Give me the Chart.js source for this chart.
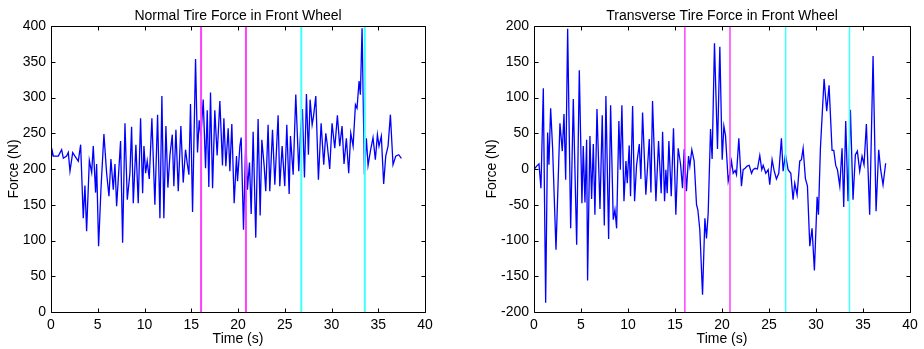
<!DOCTYPE html>
<html>
<head>
<meta charset="utf-8">
<script src="https://cdn.jsdelivr.net/npm/chart.js@4.4.1/dist/chart.umd.min.js"></script>
<style>
  html, body { margin: 0; padding: 0; background: #fff; }
  #wrap { position: relative; width: 924px; height: 349px; }
  canvas { position: absolute; top: 0; }
  #leftChart { left: 0; }
  #rightChart { left: 462px; }
</style>
</head>
<body>
<div id="wrap">
  <canvas id="leftChart" width="462" height="349"></canvas>
  <canvas id="rightChart" width="462" height="349"></canvas>
</div>
<script>
// Normal tire force (N) vs time (s)
const normalTime = [0.00, 0.14, 0.25, 0.43, 0.78, 1.14, 1.32, 1.67, 1.85, 2.03, 2.32, 2.56, 2.92, 3.17, 3.45, 3.63, 3.81, 4.10, 4.35, 4.52,
    4.77, 4.88, 5.09, 5.34, 5.66, 5.95, 6.20, 6.41, 6.66, 6.84, 7.02, 7.44, 7.66, 7.91, 8.16, 8.44, 8.62, 8.80, 9.08, 9.33,
    9.58, 9.80, 9.94, 10.12, 10.29, 10.51, 10.79, 11.11, 11.40, 11.65, 11.86, 12.07, 12.29, 12.50, 12.72, 12.97, 13.14, 13.36, 13.61, 13.89,
    14.14, 14.39, 14.57, 14.75, 14.92, 15.14, 15.46, 15.67, 15.85, 16.03, 16.28, 16.53, 16.71, 16.88, 17.06, 17.28, 17.52, 17.77, 18.06, 18.34,
    18.49, 18.70, 18.95, 19.13, 19.34, 19.59, 19.84, 19.95, 20.20, 20.34, 20.59, 20.84, 21.01, 21.23, 21.41, 21.62, 21.90, 22.15, 22.37, 22.55,
    22.80, 22.97, 23.22, 23.40, 23.69, 23.94, 24.29, 24.47, 24.72, 25.00, 25.22, 25.47, 25.61, 25.90, 26.18, 26.50, 26.71, 26.89, 27.11, 27.32,
    27.53, 27.71, 27.93, 28.07, 28.32, 28.60, 28.89, 29.17, 29.39, 29.53, 29.81, 30.06, 30.35, 30.63, 30.88, 31.13, 31.34, 31.59, 31.84, 32.06,
    32.31, 32.56, 32.73, 32.95, 33.09, 33.27, 33.52, 33.73, 33.91, 34.16, 34.44, 34.69, 34.91, 35.08, 35.33, 35.58, 35.80, 36.05, 36.30, 36.58,
    36.87, 37.19, 37.47];
const normalForce = [213, 225, 218, 218, 218, 227, 215, 218, 223, 197, 223, 218, 211, 234, 131, 177, 113, 212, 195, 232,
    167, 207, 92, 171, 249, 194, 162, 214, 171, 207, 148, 239, 97, 264, 157, 194, 259, 152, 234, 152,
    271, 166, 232, 194, 211, 186, 271, 150, 276, 131, 302, 131, 260, 174, 219, 248, 176, 255, 169, 260,
    181, 227, 208, 192, 291, 140, 354, 223, 268, 246, 297, 201, 282, 175, 307, 173, 282, 219, 295, 205,
    271, 204, 257, 197, 263, 152, 218, 183, 232, 244, 115, 247, 171, 209, 137, 252, 104, 270, 135, 241,
    204, 169, 262, 169, 255, 178, 275, 176, 232, 176, 262, 165, 246, 192, 304, 197, 257, 284, 188, 305,
    220, 297, 262, 273, 302, 185, 264, 206, 250, 236, 200, 264, 229, 275, 232, 260, 207, 243, 194, 250,
    232, 290, 285, 323, 304, 397, 192, 243, 205, 225, 244, 213, 248, 232, 246, 179, 218, 232, 276, 206,
    218, 220, 215];

// Transverse tire force (N) vs time (s)
const transTime = [0.00, 0.28, 0.53, 0.74, 0.99, 1.24, 1.45, 1.59, 1.77, 1.98, 2.34, 2.76, 3.01, 3.19, 3.37, 3.58, 3.90, 4.18, 4.54, 4.82,
    5.10, 5.24, 5.42, 5.60, 5.70, 5.95, 6.13, 6.31, 6.48, 6.70, 7.02, 7.26, 7.48, 7.65, 7.94, 8.15, 8.43, 8.61, 8.79, 9.03,
    9.18, 9.35, 9.57, 9.78, 9.92, 10.13, 10.27, 10.49, 10.70, 10.91, 11.20, 11.37, 11.55, 11.90, 12.26, 12.44, 12.61, 12.97, 13.25, 13.53,
    13.68, 13.89, 14.03, 14.17, 14.35, 14.60, 14.84, 15.09, 15.34, 15.59, 15.80, 15.98, 16.22, 16.44, 16.58, 16.79, 17.04, 17.29, 17.43, 17.64,
    17.93, 18.18, 18.35, 18.53, 18.78, 18.95, 19.20, 19.52, 19.77, 20.02, 20.20, 20.37, 20.66, 20.83, 21.01, 21.19, 21.40, 21.54, 21.79, 22.07,
    22.25, 22.46, 22.67, 22.89, 23.14, 23.31, 23.53, 23.77, 24.02, 24.23, 24.38, 24.66, 24.91, 25.08, 25.33, 25.54, 25.79, 26.04, 26.32, 26.50,
    26.75, 27.03, 27.32, 27.56, 27.74, 27.99, 28.27, 28.45, 28.63, 28.87, 29.09, 29.34, 29.58, 29.83, 30.12, 30.26, 30.47, 30.86, 31.14, 31.39,
    31.71, 31.89, 32.10, 32.28, 32.53, 32.77, 32.95, 33.16, 33.41, 33.66, 33.94, 34.19, 34.40, 34.65, 34.90, 35.11, 35.36, 35.71, 36.07, 36.39,
    36.67, 36.88, 37.13, 37.41];
const transForce = [-1, 4, 7, -27, 113, -187, 51, 6, 85, 29, -113, 64, 25, 77, -15, 196, -83, 98, -106, 138,
    -48, 32, -47, 41, -156, 46, -42, 35, -64, 84, -56, 75, -79, 102, -98, 89, -71, -57, -83, 67,
    -1, 89, -45, 11, -20, 33, -38, 88, -45, 5, 35, -14, 79, -36, 42, -33, 95, -45, 39, -34,
    52, -45, -1, -34, 39, -38, 57, -64, 29, 7, -27, 28, -31, 18, 4, 27, 11, -50, -57, -85,
    -176, -69, -97, -62, 56, 14, 176, 28, 171, 13, 60, 47, -17, -6, 11, -6, -2, -8, 43, -24,
    -1, 1, 4, 5, -6, -1, 1, 0, 19, -1, 5, -6, -1, -22, 13, -2, -14, -6, 43, -3,
    20, -1, -6, -43, -20, -36, 11, 13, 29, -13, -24, -108, -83, -142, -39, -64, 29, 126, 81, 117,
    26, 26, 5, -1, -24, 29, -53, 67, -45, 83, -43, 20, 25, -3, 18, 6, 63, -64, 158, -59,
    27, -1, -22, 8];

// Event markers (s)
const magentaTimes = [16.05, 20.85];
const cyanTimes = [26.77, 33.56];

const xTicks = [0, 5, 10, 15, 20, 25, 30, 35, 40];
const normalTicks = [0, 50, 100, 150, 200, 250, 300, 350, 400];
const transTicks = [-200, -150, -100, -50, 0, 50, 100, 150, 200];

const FONT = '"Liberation Sans", Arial, Helvetica, sans-serif';

function pairs(xs, ys) {
    return xs.map((x, i) => ({ x: x, y: ys[i] }));
}

function markerSets(times, color, width, yMin, yMax) {
    return times.map(t => ({
        data: [{ x: t, y: yMin }, { x: t, y: yMax }],
        borderColor: color,
        borderWidth: width,
        pointRadius: 0,
        order: 0
    }));
}

// MATLAB-like box with inward ticks and a title above the plot area
const matlabBox = {
    id: 'matlabBox',
    afterDraw(chart, args, opts) {
        const ctx = chart.ctx;
        const a = chart.chartArea;
        const xs = chart.scales.x;
        const ys = chart.scales.y;
        const L = Math.round(a.left) + 0.5, R = Math.round(a.right) + 0.5;
        const T = Math.round(a.top) + 0.5, B = Math.round(a.bottom) + 0.5;
        ctx.save();
        ctx.strokeStyle = '#000';
        ctx.lineWidth = 1;
        ctx.beginPath();
        ctx.rect(L, T, R - L, B - T);
        xs.ticks.forEach(t => {
            const px = Math.round(xs.getPixelForValue(t.value)) + 0.5;
            ctx.moveTo(px, B); ctx.lineTo(px, B - 4);
            ctx.moveTo(px, T); ctx.lineTo(px, T + 4);
        });
        ys.ticks.forEach(t => {
            const py = Math.round(ys.getPixelForValue(t.value)) + 0.5;
            ctx.moveTo(L, py); ctx.lineTo(L + 4, py);
            ctx.moveTo(R, py); ctx.lineTo(R - 4, py);
        });
        ctx.stroke();
        ctx.fillStyle = '#000';
        ctx.font = '14px ' + FONT;
        ctx.textAlign = 'center';
        ctx.textBaseline = 'middle';
        ctx.fillText(opts.text, (a.left + a.right) / 2, 16);
        ctx.restore();
    }
};

function makeChart(id, title, series, markers, yTicks, yAxisWidth, padRight, yTitlePad) {
    const yMin = yTicks[0], yMax = yTicks[yTicks.length - 1];
    new Chart(document.getElementById(id).getContext('2d'), {
        type: 'line',
        data: {
            datasets: markers.concat([{
                data: series,
                borderColor: '#0000ff',
                borderWidth: 1.3,
                pointRadius: 0,
                tension: 0,
                order: 1
            }])
        },
        options: {
            responsive: false,
            animation: false,
            layout: { padding: { left: 0, right: padRight, top: 26, bottom: 0 } },
            plugins: {
                legend: { display: false },
                tooltip: { enabled: false },
                matlabBox: { text: title }
            },
            scales: {
                x: {
                    type: 'linear',
                    min: 0,
                    max: 40,
                    afterBuildTicks: s => { s.ticks = xTicks.map(v => ({ value: v })); },
                    afterFit: s => { s.height = 37; },
                    grid: { display: false, drawTicks: false },
                    border: { display: false },
                    ticks: { color: '#000', font: { family: FONT, size: 14 }, padding: 5, maxRotation: 0 },
                    title: { display: true, text: 'Time (s)', color: '#000',
                             font: { family: FONT, size: 14 }, padding: { top: 0, bottom: 1 } }
                },
                y: {
                    type: 'linear',
                    min: yMin,
                    max: yMax,
                    afterBuildTicks: s => { s.ticks = yTicks.map(v => ({ value: v })); },
                    afterFit: s => { s.width = yAxisWidth; },
                    grid: { display: false, drawTicks: false },
                    border: { display: false },
                    ticks: { color: '#000', font: { family: FONT, size: 14 }, padding: 5 },
                    title: { display: true, text: 'Force (N)', color: '#000',
                             font: { family: FONT, size: 14 }, padding: { top: yTitlePad, bottom: 0 } }
                }
            }
        },
        plugins: [matlabBox]
    });
}

makeChart('leftChart', 'Normal Tire Force in Front Wheel',
    pairs(normalTime, normalForce),
    markerSets(magentaTimes, '#ff40ff', 2, 0, 400).concat(markerSets(cyanTimes, '#40ffff', 2, 0, 400)),
    normalTicks, 51, 37, 6);

makeChart('rightChart', 'Transverse Tire Force in Front Wheel',
    pairs(transTime, transForce),
    markerSets(magentaTimes, '#ff40ff', 1.5, -200, 200).concat(markerSets(cyanTimes, '#40ffff', 1.5, -200, 200)),
    transTicks, 72, 14, 22);
</script>
</body>
</html>
